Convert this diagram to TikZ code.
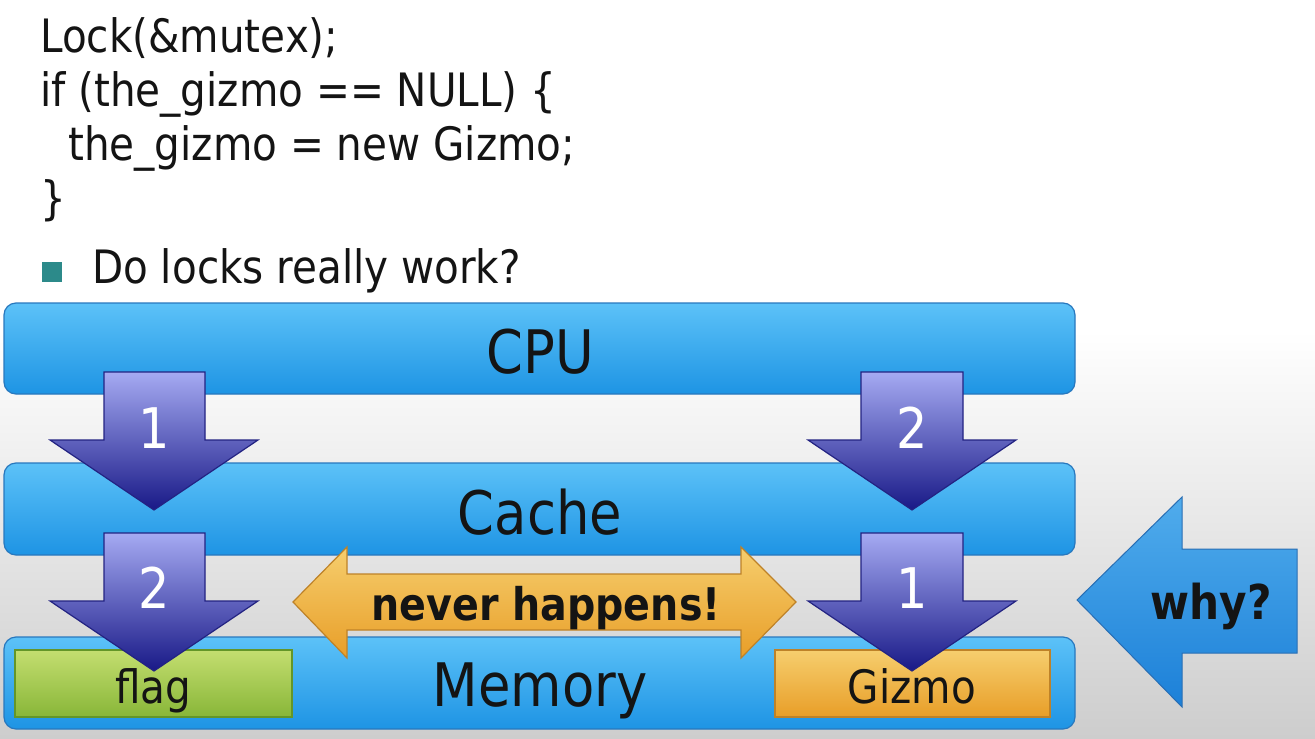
\documentclass[tikz,border=0pt]{standalone}
\usepackage{fontspec}
\setmainfont{DejaVu Sans}[FakeStretch=0.88]
\definecolor{bgbot}{RGB}{205,205,205}
\definecolor{bartop}{RGB}{92,194,248}
\definecolor{barbot}{RGB}{30,148,228}
\definecolor{barline}{RGB}{40,120,190}
\definecolor{ptop}{RGB}{165,170,242}
\definecolor{pbot}{RGB}{25,25,135}
\definecolor{pline}{RGB}{35,35,130}
\definecolor{otop}{RGB}{246,206,110}
\definecolor{obot}{RGB}{232,158,40}
\definecolor{oline}{RGB}{190,130,40}
\definecolor{gtop}{RGB}{196,222,112}
\definecolor{gbot}{RGB}{136,182,56}
\definecolor{gline}{RGB}{100,150,40}
\definecolor{wtop}{RGB}{80,172,236}
\definecolor{wbot}{RGB}{28,128,216}
\definecolor{wline}{RGB}{40,110,180}
\definecolor{teal}{RGB}{44,138,138}
\definecolor{ink}{RGB}{20,20,20}
\begin{document}
\begin{tikzpicture}[x=1pt,y=-1pt,
  codetext/.style={anchor=base west, inner sep=0pt, text=ink, font=\fontsize{46}{54}\selectfont},
  bar/.style={rounded corners=12pt, draw=barline, line width=1.2pt, top color=bartop, bottom color=barbot},
  barlabel/.style={anchor=base, inner sep=0pt, text=ink, font=\fontsize{60}{66}\selectfont},
  downarrow/.style={draw=pline, line width=1.2pt, top color=ptop, bottom color=pbot},
  numlabel/.style={anchor=base, inner sep=0pt, text=white, font=\fontsize{56}{60}\selectfont},
  boxlabel/.style={anchor=base, inner sep=0pt, text=ink, font=\fontsize{46}{50}\selectfont},
  flagbox/.style={draw=gline, line width=1.2pt, top color=gtop, bottom color=gbot},
  gizmobox/.style={draw=oline, line width=1.2pt, top color=otop, bottom color=obot},
  orangearrow/.style={draw=oline, line width=1.2pt, top color=otop, bottom color=obot},
  whyarrow/.style={draw=wline, line width=1pt, top color=wtop, bottom color=wbot},
  boldlabel/.style={anchor=base, inner sep=0pt, text=ink, font=\bfseries\fontsize{45}{48}\selectfont}]
% background
\fill[white] (0,0) rectangle (1315,739);
\shade[top color=white, bottom color=bgbot] (0,330) rectangle (1315,739);
\useasboundingbox (0,0) rectangle (1315,739);
% code
\node[codetext] (l1) at (40,52) {Lock(\&mutex);};
\node[codetext] (l2) at (40,106) {if (the\_gizmo == NULL) \{};
\node[codetext] (l3) at (68,160) {the\_gizmo = new Gizmo;};
\node[codetext] (l4) at (40,214) {\}};
\node[fill=teal, minimum size=20pt, inner sep=0pt] (bullet) at (52,272) {};
\node[codetext] (q) at (92,283) {Do locks really work?};
% bars
\draw[bar] (4,303) rectangle (1075,394);
\draw[bar] (4,463) rectangle (1075,555);
\draw[bar] (4,637) rectangle (1075,729);
\node[barlabel] (cpu) at (540,373) {CPU};
\node[barlabel] (cache) at (540,534) {Cache};
\node[barlabel] (memory) at (540,706) {Memory};
% boxes
\draw[flagbox] (15,650) rectangle (292,717);
\draw[gizmobox] (775,650) rectangle (1050,717);
\node[boxlabel] (flag) at (153,703) {flag};
\node[boxlabel] (gizmo) at (912,703) {Gizmo};
% down arrows
\draw[downarrow] (104,372) -- (205,372) -- (205,440) -- (258,440) -- (154,510) -- (50,440) -- (104,440) -- cycle;
\draw[downarrow] (861,372) -- (963,372) -- (963,440) -- (1016,440) -- (912,510) -- (808,440) -- (861,440) -- cycle;
\draw[downarrow] (104,533) -- (205,533) -- (205,601) -- (258,601) -- (154,671) -- (50,601) -- (104,601) -- cycle;
\draw[downarrow] (861,533) -- (963,533) -- (963,601) -- (1016,601) -- (912,671) -- (808,601) -- (861,601) -- cycle;
\node[numlabel] (n1a) at (154,448) {1};
\node[numlabel] (n2a) at (912,448) {2};
\node[numlabel] (n2b) at (154,608) {2};
\node[numlabel] (n1b) at (912,608) {1};
% never happens
\draw[orangearrow] (293,602) -- (347,547) -- (347,574) -- (741,574) -- (741,547) -- (796,602) -- (741,658) -- (741,630) -- (347,630) -- (347,658) -- cycle;
\node[boldlabel] (never) at (546,620) {never happens!};
% why
\draw[whyarrow] (1077,600) -- (1182,497) -- (1182,549) -- (1297,549) -- (1297,653) -- (1182,653) -- (1182,707) -- cycle;
\node[boldlabel, font=\bfseries\fontsize{48}{50}\selectfont] (why) at (1211,619) {why?};
\end{tikzpicture}
\end{document}
